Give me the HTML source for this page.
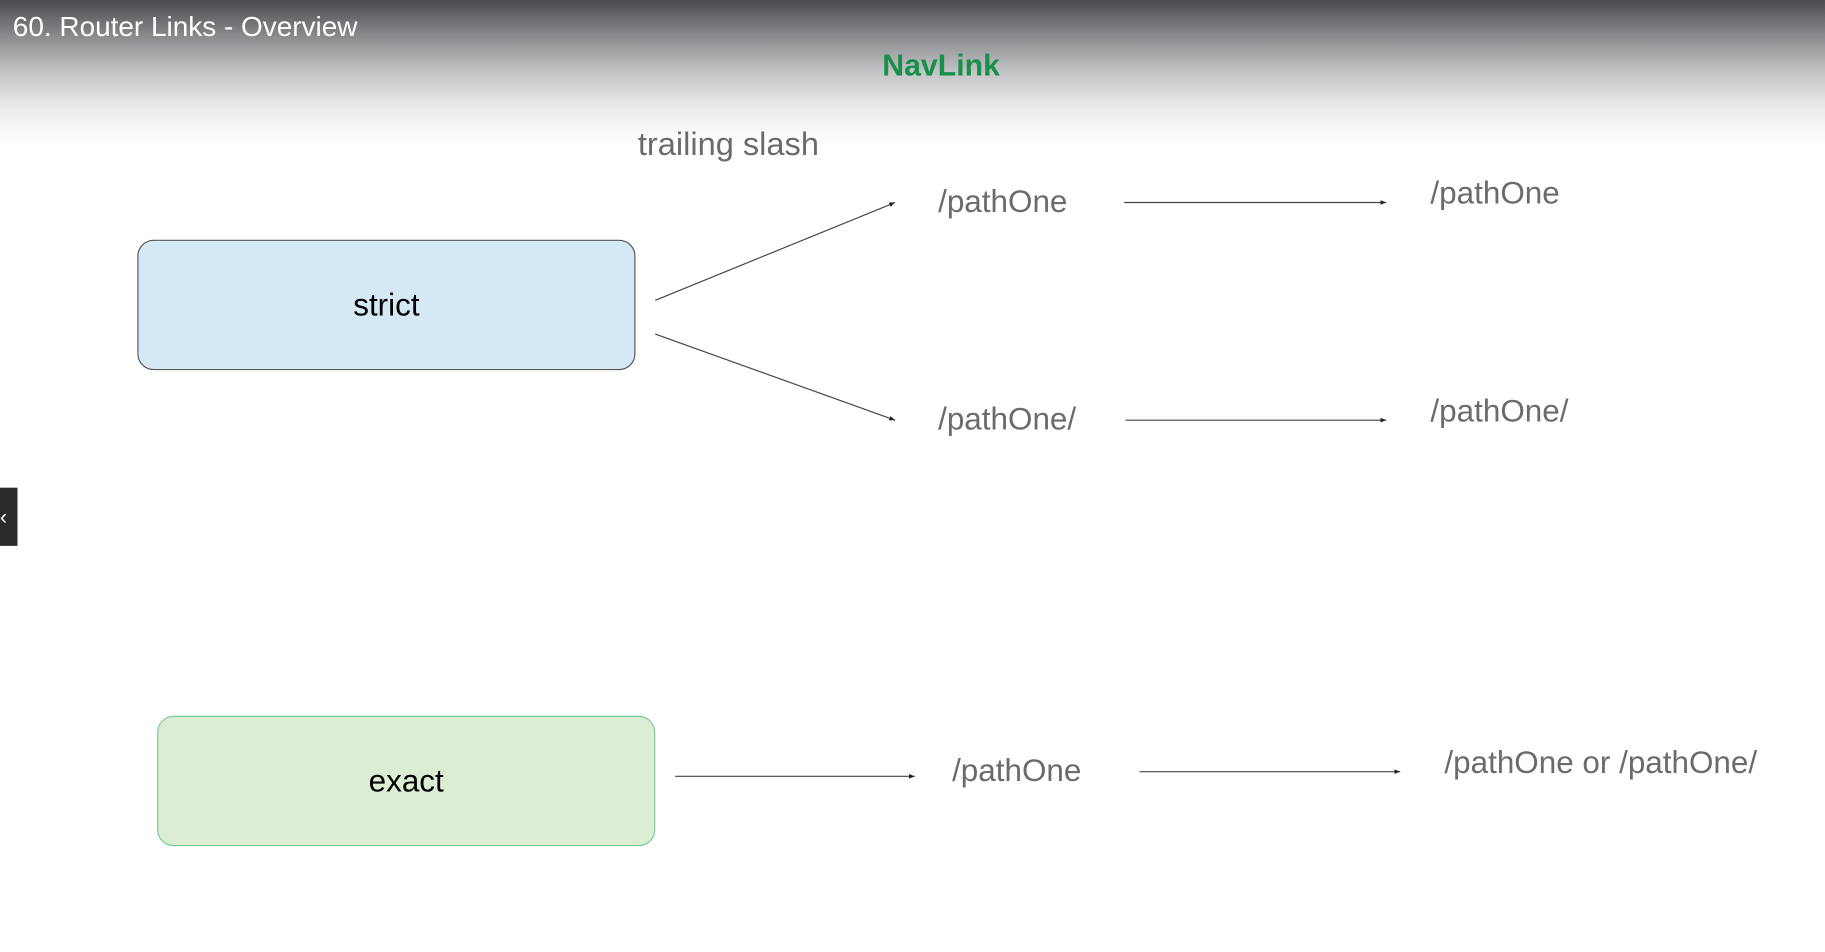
<!DOCTYPE html>
<html><head><meta charset="utf-8"><style>
html,body{margin:0;padding:0;background:#fff;overflow:hidden;width:1825px;height:952px}
#w{position:absolute;left:0;top:0;width:1568px;height:818px;transform:scale(1.16390);transform-origin:0 0;font-family:"Liberation Sans",sans-serif}
.t{position:absolute;white-space:nowrap;color:#6b6b6b;font-size:27px;line-height:1}
.box{position:absolute;border-radius:14px;box-sizing:border-box;display:flex;align-items:center;justify-content:center;font-size:27px;color:#000}
</style></head><body><div id="w">
<div style="position:absolute;left:0;top:0;width:1568px;height:125px;background:linear-gradient(#4a4b50 0%,#8a8b8e 25%,#c4c5c7 50%,#ececec 75%,#fff 100%)"></div>
<div class="t" style="left:11px;top:12px;font-size:24px;color:#fff">60. Router Links - Overview</div>
<div class="t" style="left:758px;top:43px;font-size:26px;color:#17914a;font-weight:bold">NavLink</div>
<div class="t" style="left:548px;top:110px;font-size:28px">trailing slash</div>
<div class="box" style="left:118px;top:206px;width:428px;height:112px;background:#d4e9f5;border:1.5px solid #555">strict</div>
<div class="box" style="left:135px;top:615px;width:428px;height:112px;background:#dbeed3;border:1.5px solid #7cc89a">exact</div>
<svg style="position:absolute;left:0;top:0" width="1568" height="818">
<defs><marker id="a" markerWidth="6" markerHeight="4" refX="5" refY="2" orient="auto" markerUnits="userSpaceOnUse"><path d="M0,0L5,2L0,4z" fill="#222"/></marker></defs>
<g stroke="#444" stroke-width="1" marker-end="url(#a)">
<line x1="563" y1="258" x2="769" y2="174"/>
<line x1="563" y1="287" x2="769" y2="361"/>
<line x1="966" y1="174" x2="1191" y2="174"/>
<line x1="967" y1="361" x2="1191" y2="361"/>
<line x1="580" y1="667" x2="786" y2="667"/>
<line x1="979" y1="663" x2="1203" y2="663"/>
</g></svg>
<div class="t" style="left:806px;top:160px">/pathOne</div>
<div class="t" style="left:1229px;top:153px">/pathOne</div>
<div class="t" style="left:806px;top:347px">/pathOne/</div>
<div class="t" style="left:1229px;top:340px">/pathOne/</div>
<div class="t" style="left:818px;top:649px">/pathOne</div>
<div class="t" style="left:1241px;top:642px">/pathOne or /pathOne/</div>
<div style="position:absolute;left:0;top:419px;width:15px;height:50px;background:#2a2a2a;color:#fff;font-size:18px;line-height:50px">‹</div>
</div></body></html>
